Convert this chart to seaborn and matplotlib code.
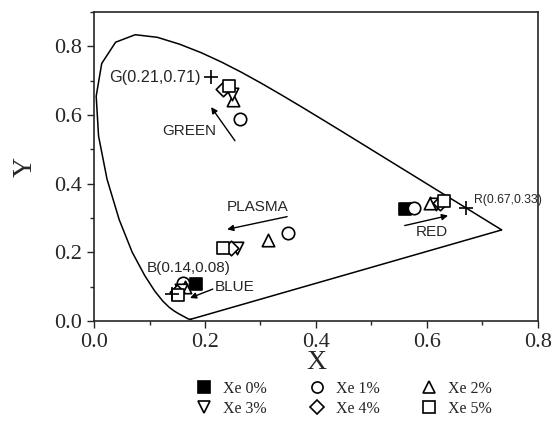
import numpy as np
import pandas as pd
import seaborn as sns
import matplotlib.pyplot as plt
from matplotlib.lines import Line2D
from matplotlib.ticker import MultipleLocator

# CIE 1931 spectral locus (x, y)
locus_x = [0.1741, 0.1738, 0.1733, 0.1726, 0.1714, 0.1689, 0.1669, 0.1644, 0.1611,
           0.1566, 0.1510, 0.1440, 0.1355, 0.1241, 0.1096, 0.0913, 0.0687, 0.0454,
           0.0235, 0.0082, 0.0039, 0.0139, 0.0389, 0.0743, 0.1142, 0.1547, 0.1929,
           0.2296, 0.2658, 0.3016, 0.3373, 0.3731, 0.4087, 0.4441, 0.4788, 0.5125,
           0.5448, 0.5752, 0.6029, 0.6270, 0.6658, 0.6915, 0.7079, 0.7190, 0.7260,
           0.7300, 0.7334, 0.7347, 0.1741]
locus_y = [0.0050, 0.0049, 0.0048, 0.0048, 0.0051, 0.0069, 0.0086, 0.0109, 0.0138,
           0.0177, 0.0227, 0.0297, 0.0399, 0.0578, 0.0868, 0.1327, 0.2007, 0.2950,
           0.4127, 0.5384, 0.6548, 0.7502, 0.8120, 0.8338, 0.8262, 0.8059, 0.7816,
           0.7543, 0.7243, 0.6923, 0.6589, 0.6245, 0.5896, 0.5547, 0.5202, 0.4866,
           0.4544, 0.4242, 0.3965, 0.3725, 0.3340, 0.3083, 0.2920, 0.2809, 0.2740,
           0.2700, 0.2666, 0.2653, 0.0050]

# measured points per Xe concentration: blue, plasma, green, red
xe0_x = [0.183, 0.560]
xe0_y = [0.108, 0.326]
xe1_x = [0.160, 0.350, 0.263, 0.576]
xe1_y = [0.112, 0.255, 0.587, 0.328]
xe2_x = [0.164, 0.314, 0.250, 0.605]
xe2_y = [0.099, 0.237, 0.645, 0.343]
xe3_x = [0.157, 0.258, 0.248, 0.617]
xe3_y = [0.090, 0.213, 0.662, 0.340]
xe4_x = [0.150, 0.247, 0.232, 0.624]
xe4_y = [0.085, 0.213, 0.676, 0.345]
xe5_x = [0.152, 0.233, 0.243, 0.630]
xe5_y = [0.075, 0.213, 0.685, 0.350]

# reference primaries
prim_x = [0.21, 0.14, 0.67]
prim_y = [0.71, 0.08, 0.33]
prim_labels = ["G(0.21,0.71)", "B(0.14,0.08)", "R(0.67,0.33)"]

series = [
    ("Xe 0%", xe0_x, xe0_y, "s", "black"),
    ("Xe 1%", xe1_x, xe1_y, "o", "white"),
    ("Xe 2%", xe2_x, xe2_y, "^", "white"),
    ("Xe 3%", xe3_x, xe3_y, "v", "white"),
    ("Xe 4%", xe4_x, xe4_y, "D", "white"),
    ("Xe 5%", xe5_x, xe5_y, "s", "white"),
]

sns.set_style("ticks")
plt.rcParams['font.family'] = ['Liberation Serif', 'DejaVu Serif']

fig = plt.figure(figsize=(5.58, 4.22), dpi=100)
ax = fig.add_axes([0.1685, 0.2393, 0.7955, 0.7323])

ax.plot(locus_x, locus_y, color="black", lw=1.1)

for name, xs, ys, mk, fc in series:
    size = 55 if mk == "D" else 80
    sns.scatterplot(x=xs, y=ys, marker=mk, s=size, color="black",
                    facecolor=fc, edgecolor="black", linewidth=1.2, ax=ax, zorder=3)

sns.scatterplot(x=prim_x, y=prim_y, marker="+", s=110, color="black", linewidth=1.2,
                ax=ax, zorder=3)

sans = ['Liberation Sans', 'DejaVu Sans']
ax.text(0.193, 0.71, prim_labels[0], ha="right", va="center", fontsize=11.7, family=sans)
ax.text(0.095, 0.154, prim_labels[1], ha="left", va="center", fontsize=11, family=sans)
ax.text(0.684, 0.353, prim_labels[2], ha="left", va="center", fontsize=8.8, family=sans)

# arrows with labels
arrows = [
    ("GREEN", (0.254, 0.525), (0.211, 0.623), (0.171, 0.554)),
    ("PLASMA", (0.348, 0.304), (0.240, 0.267), (0.294, 0.333)),
    ("BLUE", (0.214, 0.093), (0.173, 0.067), (0.254, 0.099)),
    ("RED", (0.560, 0.278), (0.638, 0.307), (0.609, 0.258)),
]
for label, start, end, pos in arrows:
    ax.annotate("", xy=end, xytext=start,
                arrowprops=dict(arrowstyle="-|>", color="black", lw=1.0,
                                mutation_scale=9, shrinkA=0, shrinkB=0))
    ax.text(pos[0], pos[1], label, ha="center", va="center", fontsize=11, family=sans)

ax.set_xlim(0, 0.8)
ax.set_ylim(0, 0.9)
ax.set_xticks([0.0, 0.2, 0.4, 0.6, 0.8])
ax.set_yticks([0.0, 0.2, 0.4, 0.6, 0.8])
ax.xaxis.set_minor_locator(MultipleLocator(0.1))
ax.yaxis.set_minor_locator(MultipleLocator(0.1))
ax.tick_params(which="major", length=5, width=1, labelsize=16, direction="out")
ax.tick_params(which="minor", length=3, width=1, direction="out")
for sp in ax.spines.values():
    sp.set_visible(True)
    sp.set_linewidth(1.2)

ax.set_xlabel("X", fontsize=20, labelpad=-1)
ax.set_ylabel("Y", fontsize=20, labelpad=12)

# legend rows: Xe0 Xe1 Xe2 / Xe3 Xe4 Xe5 (legend fills column-wise)
order = [0, 3, 1, 4, 2, 5]
handles = []
labels = []
for i in order:
    name, xs, ys, mk, fc = series[i]
    handles.append(Line2D([], [], marker=mk, ls="none", color="black", markerfacecolor=fc,
                          markeredgecolor="black", markersize=8 if mk != "D" else 7,
                          markeredgewidth=1.2))
    labels.append(name)
fig.legend(handles, labels, ncol=3, loc="center", bbox_to_anchor=(0.615, 0.055),
           frameon=False, fontsize=11.5, handletextpad=0.6, columnspacing=2.5,
           labelspacing=0.25, handlelength=1.2)

fig.savefig("out.png", dpi=100)
